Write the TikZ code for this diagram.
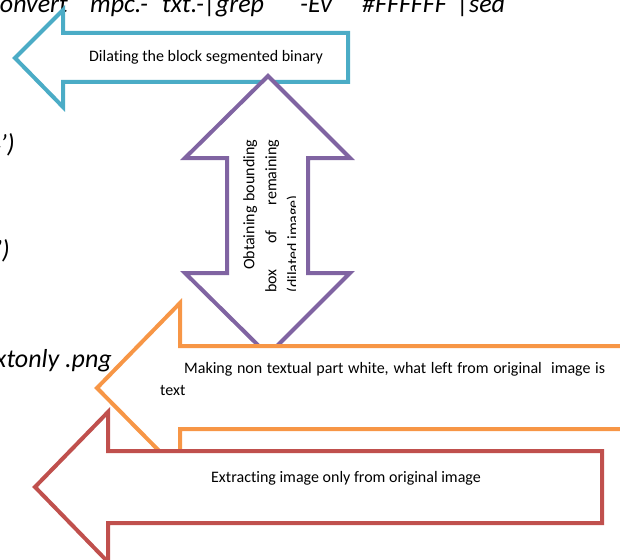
\documentclass[tikz,border=0pt]{standalone}
\usepackage{fontspec}
\setmainfont{Carlito}[Ligatures=NoCommon]
\usetikzlibrary{positioning}
\definecolor{arrblue}{HTML}{4BACC6}
\definecolor{arrpurple}{HTML}{8064A2}
\definecolor{arrorange}{HTML}{F79646}
\definecolor{arrred}{HTML}{C0504D}
\tikzset{
  blockarrow/.style={draw=#1, line width=4pt, fill=white, miter limit=10},
  steplabel/.style={inner sep=0pt, font=\fontsize{16}{22}\selectfont},
  cmdtext/.style={inner sep=0pt, anchor=base west, font=\fontsize{26}{30}\selectfont\itshape},
}
\begin{document}
\begin{tikzpicture}[x=1pt,y=-1pt]
\useasboundingbox (0,0) rectangle (620,559);
\clip (0,0) rectangle (620,559);
\node[cmdtext, anchor=base east] (cmdconvert) at (68,13) {convert};
\node[cmdtext] (cmdinput) at (90,13) {mpc.-};
\node[cmdtext] (cmdgrep) at (162,13) {txt.-|grep};
\node[cmdtext] (cmdflag) at (300,13) {-Ev};
\node[cmdtext] (cmdcolor) at (362,13) {\#FFFFFF};
\node[cmdtext] (cmdsed) at (457,13) {|sed};
\node[cmdtext, anchor=base east] (cmdquote) at (15,152) {4')};
\node[cmdtext, anchor=base east] (cmdquotetwo) at (10,258) {')};
\node[cmdtext, anchor=base east] (cmdpng) at (112,367) {textonly .png};
% dilation
\draw[blockarrow=arrblue] (15,58) -- (63,10) -- (63,33) -- (348,33) -- (348,82)
  -- (63,82) -- (63,107) -- cycle;
\node[steplabel, anchor=base] (dilate) at (206,62) {Dilating the block segmented binary};
% bounding box
\draw[blockarrow=arrpurple] (268,76) -- (350,158) -- (308,158) -- (308,273) -- (350,273)
  -- (268,355) -- (185,273) -- (227,273) -- (227,158) -- (185,158) -- cycle;
\begin{scope}
\clip (229,130) rectangle (295,300);
\node[steplabel, rotate=90, anchor=north west, text width=153pt, align=justify] (bbox) at (243,293)
  {\hspace*{23pt}Obtaining bounding\linebreak box of remaining\linebreak (dilated image)};
\end{scope}
% text only
\draw[blockarrow=arrorange] (97,388) -- (180,303) -- (180,346) -- (640,346) -- (640,429)
  -- (180,429) -- (180,472) -- cycle;
\node[steplabel, anchor=north west, text width=445pt, align=justify] (textonly) at (160,362)
  {\hspace*{24pt}Making non textual part white, what left from original~ image is\linebreak text};
% image only
\draw[blockarrow=arrred] (35,487) -- (108,412) -- (108,451) -- (602,451) -- (602,523)
  -- (108,523) -- (108,562) -- cycle;
\node[steplabel, anchor=base] (extract) at (346,482) {Extracting image only from original image};
\end{tikzpicture}
\end{document}
